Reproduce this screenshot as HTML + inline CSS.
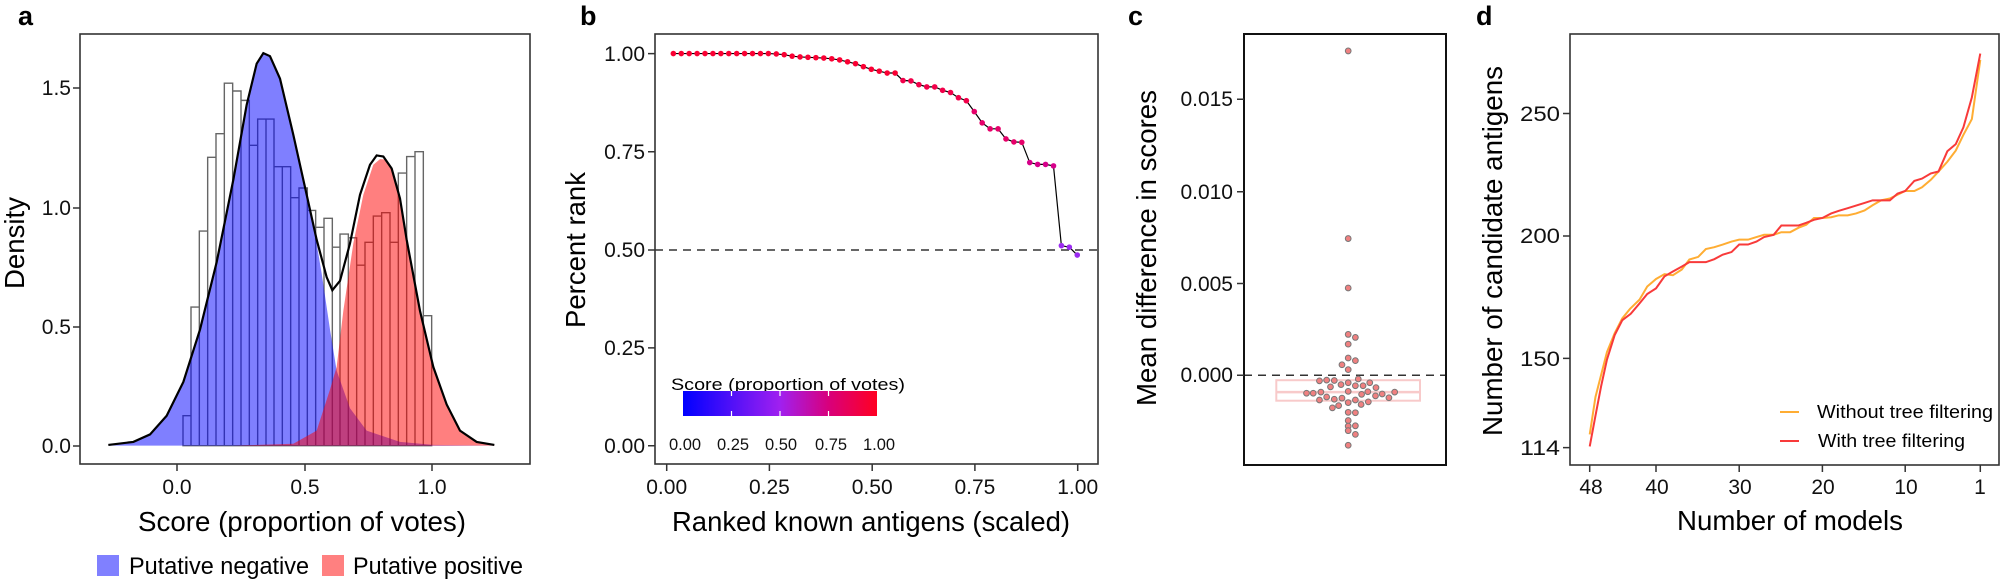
<!DOCTYPE html>
<html><head><meta charset="utf-8"><style>
html,body{margin:0;padding:0;background:#fff;}
svg{display:block;font-family:"Liberation Sans",Arial,sans-serif;}
</style></head><body>
<svg width="2001" height="586" viewBox="0 0 2001 586" xmlns="http://www.w3.org/2000/svg">
<defs>
<linearGradient id="cb" x1="0" x2="1" y1="0" y2="0">
<stop offset="0" stop-color="#0000ff"/><stop offset="0.5" stop-color="#a020f0"/><stop offset="0.75" stop-color="#d8007c"/><stop offset="1" stop-color="#ff0022"/>
</linearGradient>
</defs>
<rect width="2001" height="586" fill="#fff"/>

<!-- ===== Panel a ===== -->
<text x="18" y="25" font-size="27" font-weight="bold">a</text>
<g transform="scale(0.33333,0.3745)" fill="none">
<path stroke="#666" stroke-width="1.4" vector-effect="non-scaling-stroke" d="M549,1190V1110H573V1190Z M573,1190V820H598V1190Z M598,1190V617H623V1190Z M623,1190V420H648V1190Z M648,1190V357H673V1190Z M673,1190V222H698V1190Z M698,1190V243H723V1190Z M723,1190V268H748V1190Z M748,1190V388H773V1190Z M773,1190V318H798V1190Z M798,1190V318H822V1190Z M822,1190V445H847V1190Z M847,1190V445H872V1190Z M872,1190V528H897V1190Z M897,1190V502H922V1190Z M922,1190V562H947V1190Z M947,1190V607H972V1190Z M972,1190V583H997V1190Z M997,1190V660H1020V1190Z M1020,1190V625H1045V1190Z M1045,1190V635H1070V1190Z M1070,1190V708H1095V1190Z M1095,1190V647H1120V1190Z M1120,1190V577H1145V1190Z M1145,1190V568H1170V1190Z M1170,1190V647H1195V1190Z M1195,1190V462H1220V1190Z M1220,1190V418H1245V1190Z M1245,1190V405H1270V1190Z M1270,1190V843H1295V1190Z"/>
<path fill="#0000ff" fill-opacity="0.5" d="M325,1190L400,1180L450,1160L500,1110L550,1020L600,880L650,700L700,480L740,280L770,170L790,142L810,150L840,210L880,360L920,520L945,625L965,730L990,880L1010,990L1050,1090L1100,1150L1200,1180L1300,1188L1483,1190Z"/>
<path fill="#ff0000" fill-opacity="0.5" d="M700,1190L880,1185L950,1150L990,1040L1010,980L1030,830L1060,650L1090,520L1120,440L1140,425L1160,426L1175,452L1200,535L1220,640L1260,830L1300,980L1340,1080L1380,1150L1430,1180L1483,1188L1483,1190Z"/>
<path stroke="#000" stroke-width="2.2" vector-effect="non-scaling-stroke" d="M325,1188L400,1180L450,1160L500,1110L550,1020L600,880L650,700L700,480L740,280L770,170L790,142L810,150L840,210L880,360L920,520L950,640L980,740L997,775L1020,750L1050,650L1080,520L1110,440L1130,415L1150,418L1175,450L1200,530L1220,640L1260,830L1300,980L1340,1080L1380,1150L1430,1180L1483,1188"/>
</g>
<rect x="80" y="34" width="450" height="430" fill="none" stroke="#333" stroke-width="1.6"/>
<g stroke="#333" stroke-width="1.5">
<path d="M73,446H80M73,327H80M73,208H80M73,88H80M177,464V471M305,464V471M432,464V471"/>
</g>
<g font-size="21" fill="#111" text-anchor="end">
<text x="71" y="453">0.0</text><text x="71" y="334">0.5</text><text x="71" y="215">1.0</text><text x="71" y="95">1.5</text>
</g>
<g font-size="21" fill="#111" text-anchor="middle">
<text x="177" y="494">0.0</text><text x="305" y="494">0.5</text><text x="432" y="494">1.0</text>
</g>
<text x="302" y="531" font-size="28" text-anchor="middle" textLength="328" lengthAdjust="spacingAndGlyphs">Score (proportion of votes)</text>
<text transform="translate(24,243) rotate(-90)" font-size="28" text-anchor="middle" textLength="92" lengthAdjust="spacingAndGlyphs">Density</text>
<rect x="97" y="555" width="22" height="21" fill="#8080ff"/>
<text x="129" y="574" font-size="24" textLength="180" lengthAdjust="spacingAndGlyphs">Putative negative</text>
<rect x="322" y="555" width="22" height="21" fill="#ff8080"/>
<text x="353" y="574" font-size="24" textLength="170" lengthAdjust="spacingAndGlyphs">Putative positive</text>

<!-- ===== Panel b ===== -->
<text x="580" y="25" font-size="27" font-weight="bold">b</text>
<line x1="655" y1="250" x2="1098" y2="250" stroke="#333" stroke-width="1.5" stroke-dasharray="8,6"/>
<g transform="translate(500,0) scale(0.33333,0.3745)">
<polyline fill="none" stroke="#000" stroke-width="1.2" vector-effect="non-scaling-stroke" points="520,143 543.8,143 567.5,143 591.3,143 615,143 638.8,143 662.6,143 686.3,143 710.1,143 733.8,143 757.6,143 781.4,143 805.1,143 828.9,144 852.6,146 876.4,150 900.2,152 923.9,153 947.7,154 971.4,155 995.2,157 1019,160 1042.7,165 1066.5,170 1090.2,178 1114,185 1137.8,190 1161.5,195 1185.3,195 1209,215 1232.8,216 1256.6,226 1280.3,232 1304.1,232 1327.8,241 1351.6,247 1375.4,261 1399.1,269 1422.9,298 1446.6,328 1470.4,344 1494.2,344 1517.9,371 1541.7,379 1565.4,380 1589.2,434 1613,439 1636.7,439 1660.5,443 1684.2,656 1708,660 1731.8,681"/>
<g fill="#fa0033">
<ellipse cx="520" cy="143" rx="8.4" ry="7.5"/><ellipse cx="543.8" cy="143" rx="8.4" ry="7.5"/><ellipse cx="567.5" cy="143" rx="8.4" ry="7.5"/><ellipse cx="591.3" cy="143" rx="8.4" ry="7.5"/><ellipse cx="615" cy="143" rx="8.4" ry="7.5"/><ellipse cx="638.8" cy="143" rx="8.4" ry="7.5"/><ellipse cx="662.6" cy="143" rx="8.4" ry="7.5"/><ellipse cx="686.3" cy="143" rx="8.4" ry="7.5"/><ellipse cx="710.1" cy="143" rx="8.4" ry="7.5"/><ellipse cx="733.8" cy="143" rx="8.4" ry="7.5"/><ellipse cx="757.6" cy="143" rx="8.4" ry="7.5"/><ellipse cx="781.4" cy="143" rx="8.4" ry="7.5"/><ellipse cx="805.1" cy="143" rx="8.4" ry="7.5"/><ellipse cx="828.9" cy="144" rx="8.4" ry="7.5"/><ellipse cx="852.6" cy="146" rx="8.4" ry="7.5"/><ellipse cx="876.4" cy="150" rx="8.4" ry="7.5"/><ellipse cx="900.2" cy="152" rx="8.4" ry="7.5"/><ellipse cx="923.9" cy="153" rx="8.4" ry="7.5"/><ellipse cx="947.7" cy="154" rx="8.4" ry="7.5"/><ellipse cx="971.4" cy="155" rx="8.4" ry="7.5"/><ellipse cx="995.2" cy="157" rx="8.4" ry="7.5"/><ellipse cx="1019" cy="160" rx="8.4" ry="7.5"/><ellipse cx="1042.7" cy="165" rx="8.4" ry="7.5"/><ellipse cx="1066.5" cy="170" rx="8.4" ry="7.5"/><ellipse cx="1090.2" cy="178" rx="8.4" ry="7.5"/><ellipse cx="1114" cy="185" rx="8.4" ry="7.5"/><ellipse cx="1137.8" cy="190" rx="8.4" ry="7.5"/><ellipse cx="1161.5" cy="195" rx="8.4" ry="7.5"/><ellipse cx="1185.3" cy="195" rx="8.4" ry="7.5"/>
</g>
<g fill="#f2004a">
<ellipse cx="1209" cy="215" rx="8.4" ry="7.5"/><ellipse cx="1232.8" cy="216" rx="8.4" ry="7.5"/><ellipse cx="1256.6" cy="226" rx="8.4" ry="7.5"/><ellipse cx="1280.3" cy="232" rx="8.4" ry="7.5"/><ellipse cx="1304.1" cy="232" rx="8.4" ry="7.5"/><ellipse cx="1327.8" cy="241" rx="8.4" ry="7.5"/><ellipse cx="1351.6" cy="247" rx="8.4" ry="7.5"/><ellipse cx="1375.4" cy="261" rx="8.4" ry="7.5"/><ellipse cx="1399.1" cy="269" rx="8.4" ry="7.5"/>
</g>
<g fill="#e6006a">
<ellipse cx="1422.9" cy="298" rx="8.4" ry="7.5"/><ellipse cx="1446.6" cy="328" rx="8.4" ry="7.5"/><ellipse cx="1470.4" cy="344" rx="8.4" ry="7.5"/><ellipse cx="1494.2" cy="344" rx="8.4" ry="7.5"/><ellipse cx="1517.9" cy="371" rx="8.4" ry="7.5"/><ellipse cx="1541.7" cy="379" rx="8.4" ry="7.5"/><ellipse cx="1565.4" cy="380" rx="8.4" ry="7.5"/>
</g>
<g fill="#d6008a">
<ellipse cx="1589.2" cy="434" rx="8.4" ry="7.5"/><ellipse cx="1613" cy="439" rx="8.4" ry="7.5"/><ellipse cx="1636.7" cy="439" rx="8.4" ry="7.5"/><ellipse cx="1660.5" cy="443" rx="8.4" ry="7.5"/>
</g>
<g fill="#9b2cf0">
<ellipse cx="1684.2" cy="656" rx="8.4" ry="7.5"/><ellipse cx="1708" cy="660" rx="8.4" ry="7.5"/><ellipse cx="1731.8" cy="681" rx="8.4" ry="7.5"/>
</g>
</g>
<rect x="655" y="34" width="443" height="430" fill="none" stroke="#333" stroke-width="1.6"/>
<g stroke="#333" stroke-width="1.5">
<path d="M648,53.6H655M648,151.8H655M648,250H655M648,347.9H655M648,445.7H655M666.7,464V471M769.4,464V471M872.2,464V471M974.9,464V471M1077.7,464V471"/>
</g>
<g font-size="21" fill="#111" text-anchor="end">
<text x="645" y="61">1.00</text><text x="645" y="159">0.75</text><text x="645" y="257">0.50</text><text x="645" y="355">0.25</text><text x="645" y="453">0.00</text>
</g>
<g font-size="21" fill="#111" text-anchor="middle">
<text x="666.7" y="494">0.00</text><text x="769.4" y="494">0.25</text><text x="872.2" y="494">0.50</text><text x="974.9" y="494">0.75</text><text x="1077.7" y="494">1.00</text>
</g>
<text x="871" y="531" font-size="28" text-anchor="middle" textLength="398" lengthAdjust="spacingAndGlyphs">Ranked known antigens (scaled)</text>
<text transform="translate(585,250) rotate(-90)" font-size="28" text-anchor="middle" textLength="156" lengthAdjust="spacingAndGlyphs">Percent rank</text>
<text x="671" y="390" font-size="17" textLength="234" lengthAdjust="spacingAndGlyphs">Score (proportion of votes)</text>
<rect x="683" y="391" width="194" height="25" fill="url(#cb)"/>
<g stroke="#fff" stroke-width="1.2"><path d="M731.5,391v5M731.5,411v5M780,391v5M780,411v5M828.5,391v5M828.5,411v5"/></g>
<g font-size="16.5" fill="#111" text-anchor="middle">
<text x="685" y="450">0.00</text><text x="733" y="450">0.25</text><text x="781" y="450">0.50</text><text x="831" y="450">0.75</text><text x="879" y="450">1.00</text>
</g>

<!-- ===== Panel c ===== -->
<text x="1128" y="25" font-size="27" font-weight="bold">c</text>
<rect x="1276.3" y="380.2" width="143.7" height="20.5" fill="none" stroke="#f8caca" stroke-width="2"/>
<line x1="1276.3" y1="392.1" x2="1420" y2="392.1" stroke="#f8caca" stroke-width="2.5"/>
<line x1="1244" y1="375.2" x2="1446" y2="375.2" stroke="#333" stroke-width="1.5" stroke-dasharray="8,6"/>
<g transform="translate(1250,0) scale(0.479,0.3745)" fill="#f08080" stroke="#777" stroke-width="1">
<ellipse cx="205" cy="136" rx="6" ry="7.7" vector-effect="non-scaling-stroke"/>
<ellipse cx="205" cy="637" rx="6" ry="7.7" vector-effect="non-scaling-stroke"/>
<ellipse cx="205" cy="769" rx="6" ry="7.7" vector-effect="non-scaling-stroke"/>
<ellipse cx="205" cy="893" rx="6" ry="7.7" vector-effect="non-scaling-stroke"/>
<ellipse cx="220" cy="901" rx="6" ry="7.7" vector-effect="non-scaling-stroke"/>
<ellipse cx="205" cy="919" rx="6" ry="7.7" vector-effect="non-scaling-stroke"/>
<ellipse cx="205" cy="956" rx="6" ry="7.7" vector-effect="non-scaling-stroke"/>
<ellipse cx="220" cy="963" rx="6" ry="7.7" vector-effect="non-scaling-stroke"/>
<ellipse cx="192" cy="974" rx="6" ry="7.7" vector-effect="non-scaling-stroke"/>
<ellipse cx="205" cy="987" rx="6" ry="7.7" vector-effect="non-scaling-stroke"/>
<ellipse cx="145" cy="1017" rx="6" ry="7.7" vector-effect="non-scaling-stroke"/>
<ellipse cx="160" cy="1015" rx="6" ry="7.7" vector-effect="non-scaling-stroke"/>
<ellipse cx="176" cy="1016" rx="6" ry="7.7" vector-effect="non-scaling-stroke"/>
<ellipse cx="190" cy="1027" rx="6" ry="7.7" vector-effect="non-scaling-stroke"/>
<ellipse cx="205" cy="1022" rx="6" ry="7.7" vector-effect="non-scaling-stroke"/>
<ellipse cx="226" cy="1012" rx="6" ry="7.7" vector-effect="non-scaling-stroke"/>
<ellipse cx="236" cy="1030" rx="6" ry="7.7" vector-effect="non-scaling-stroke"/>
<ellipse cx="250" cy="1022" rx="6" ry="7.7" vector-effect="non-scaling-stroke"/>
<ellipse cx="263" cy="1035" rx="6" ry="7.7" vector-effect="non-scaling-stroke"/>
<ellipse cx="168" cy="1033" rx="6" ry="7.7" vector-effect="non-scaling-stroke"/>
<ellipse cx="220" cy="1030" rx="6" ry="7.7" vector-effect="non-scaling-stroke"/>
<ellipse cx="118" cy="1050" rx="6" ry="7.7" vector-effect="non-scaling-stroke"/>
<ellipse cx="132" cy="1050" rx="6" ry="7.7" vector-effect="non-scaling-stroke"/>
<ellipse cx="148" cy="1047" rx="6" ry="7.7" vector-effect="non-scaling-stroke"/>
<ellipse cx="205" cy="1045" rx="6" ry="7.7" vector-effect="non-scaling-stroke"/>
<ellipse cx="246" cy="1046" rx="6" ry="7.7" vector-effect="non-scaling-stroke"/>
<ellipse cx="276" cy="1052" rx="6" ry="7.7" vector-effect="non-scaling-stroke"/>
<ellipse cx="302" cy="1047" rx="6" ry="7.7" vector-effect="non-scaling-stroke"/>
<ellipse cx="290" cy="1062" rx="6" ry="7.7" vector-effect="non-scaling-stroke"/>
<ellipse cx="262" cy="1057" rx="6" ry="7.7" vector-effect="non-scaling-stroke"/>
<ellipse cx="160" cy="1060" rx="6" ry="7.7" vector-effect="non-scaling-stroke"/>
<ellipse cx="176" cy="1066" rx="6" ry="7.7" vector-effect="non-scaling-stroke"/>
<ellipse cx="192" cy="1063" rx="6" ry="7.7" vector-effect="non-scaling-stroke"/>
<ellipse cx="220" cy="1068" rx="6" ry="7.7" vector-effect="non-scaling-stroke"/>
<ellipse cx="233" cy="1053" rx="6" ry="7.7" vector-effect="non-scaling-stroke"/>
<ellipse cx="145" cy="1068" rx="6" ry="7.7" vector-effect="non-scaling-stroke"/>
<ellipse cx="205" cy="1075" rx="6" ry="7.7" vector-effect="non-scaling-stroke"/>
<ellipse cx="232" cy="1080" rx="6" ry="7.7" vector-effect="non-scaling-stroke"/>
<ellipse cx="247" cy="1073" rx="6" ry="7.7" vector-effect="non-scaling-stroke"/>
<ellipse cx="185" cy="1083" rx="6" ry="7.7" vector-effect="non-scaling-stroke"/>
<ellipse cx="172" cy="1089" rx="6" ry="7.7" vector-effect="non-scaling-stroke"/>
<ellipse cx="205" cy="1101" rx="6" ry="7.7" vector-effect="non-scaling-stroke"/>
<ellipse cx="220" cy="1102" rx="6" ry="7.7" vector-effect="non-scaling-stroke"/>
<ellipse cx="205" cy="1123" rx="6" ry="7.7" vector-effect="non-scaling-stroke"/>
<ellipse cx="220" cy="1137" rx="6" ry="7.7" vector-effect="non-scaling-stroke"/>
<ellipse cx="205" cy="1138" rx="6" ry="7.7" vector-effect="non-scaling-stroke"/>
<ellipse cx="205" cy="1150" rx="6" ry="7.7" vector-effect="non-scaling-stroke"/>
<ellipse cx="220" cy="1160" rx="6" ry="7.7" vector-effect="non-scaling-stroke"/>
<ellipse cx="205" cy="1189" rx="6" ry="7.7" vector-effect="non-scaling-stroke"/>
</g>
<rect x="1244" y="34" width="202" height="431" fill="none" stroke="#111" stroke-width="2"/>
<g stroke="#333" stroke-width="1.5">
<path d="M1237,99.2H1244M1237,191.7H1244M1237,283.5H1244M1237,375.2H1244"/>
</g>
<g font-size="21" fill="#111" text-anchor="end">
<text x="1233" y="106">0.015</text><text x="1233" y="199">0.010</text><text x="1233" y="291">0.005</text><text x="1233" y="382">0.000</text>
</g>
<text transform="translate(1156,248) rotate(-90)" font-size="28" text-anchor="middle" textLength="316" lengthAdjust="spacingAndGlyphs">Mean difference in scores</text>

<!-- ===== Panel d ===== -->
<text x="1476" y="25" font-size="27" font-weight="bold">d</text>
<g transform="translate(1400,0) scale(0.38328,0.3745)" fill="none">
<polyline vector-effect="non-scaling-stroke" stroke="#ffad33" stroke-width="2" points="495,1160 510,1060 525,1000 540,940 560,890 580,850 600,825 625,800 645,765 668,745 690,732 712,735 735,720 755,693 778,686 798,665 820,660 842,653 865,645 885,640 908,640 930,633 950,627 975,627 995,620 1018,620 1040,608 1060,600 1080,582 1102,582 1125,580 1145,575 1168,575 1190,570 1212,562 1233,548 1255,535 1278,530 1298,520 1318,510 1342,510 1362,500 1385,480 1405,458 1428,432 1450,402 1470,360 1492,318 1514,160"/>
<polyline vector-effect="non-scaling-stroke" stroke="#f83a3a" stroke-width="2" points="495,1192 510,1110 525,1030 540,960 560,895 580,855 602,838 625,810 645,785 668,770 690,738 712,725 735,712 755,700 778,700 798,700 820,692 842,680 865,673 885,653 908,653 930,645 950,633 975,627 995,602 1018,602 1040,602 1060,595 1080,587 1102,582 1125,570 1145,563 1168,556 1190,549 1212,542 1233,535 1255,535 1278,535 1298,517 1318,510 1342,483 1362,477 1385,463 1405,458 1428,404 1450,385 1470,340 1492,260 1514,143"/>
</g>
<rect x="1570" y="34" width="429" height="431" fill="none" stroke="#333" stroke-width="1.6"/>
<g stroke="#333" stroke-width="1.5">
<path d="M1563,113.5H1570M1563,236H1570M1563,358.4H1570M1563,447.6H1570M1589.7,465V472M1656,465V472M1739.2,465V472M1822.4,465V472M1905.2,465V472M1980.3,465V472"/>
</g>
<g font-size="21" fill="#111" text-anchor="end">
<text x="1560" y="121" textLength="40" lengthAdjust="spacingAndGlyphs">250</text><text x="1560" y="243" textLength="40" lengthAdjust="spacingAndGlyphs">200</text><text x="1560" y="366" textLength="40" lengthAdjust="spacingAndGlyphs">150</text><text x="1560" y="455" textLength="40" lengthAdjust="spacingAndGlyphs">114</text>
</g>
<g font-size="21" fill="#111" text-anchor="middle">
<text x="1591" y="494">48</text><text x="1657" y="494">40</text><text x="1740" y="494">30</text><text x="1823" y="494">20</text><text x="1906" y="494">10</text><text x="1980" y="494">1</text>
</g>
<text x="1790" y="530" font-size="28" text-anchor="middle" textLength="226" lengthAdjust="spacingAndGlyphs">Number of models</text>
<text transform="translate(1502,251) rotate(-90)" font-size="28" text-anchor="middle" textLength="370" lengthAdjust="spacingAndGlyphs">Number of candidate antigens</text>
<line x1="1780" y1="412" x2="1799" y2="412" stroke="#ffad33" stroke-width="2"/>
<line x1="1780" y1="441" x2="1799" y2="441" stroke="#f83a3a" stroke-width="2"/>
<text x="1817" y="418" font-size="18" textLength="176" lengthAdjust="spacingAndGlyphs">Without tree filtering</text>
<text x="1818" y="447" font-size="18" textLength="147" lengthAdjust="spacingAndGlyphs">With tree filtering</text>
</svg>
</body></html>
